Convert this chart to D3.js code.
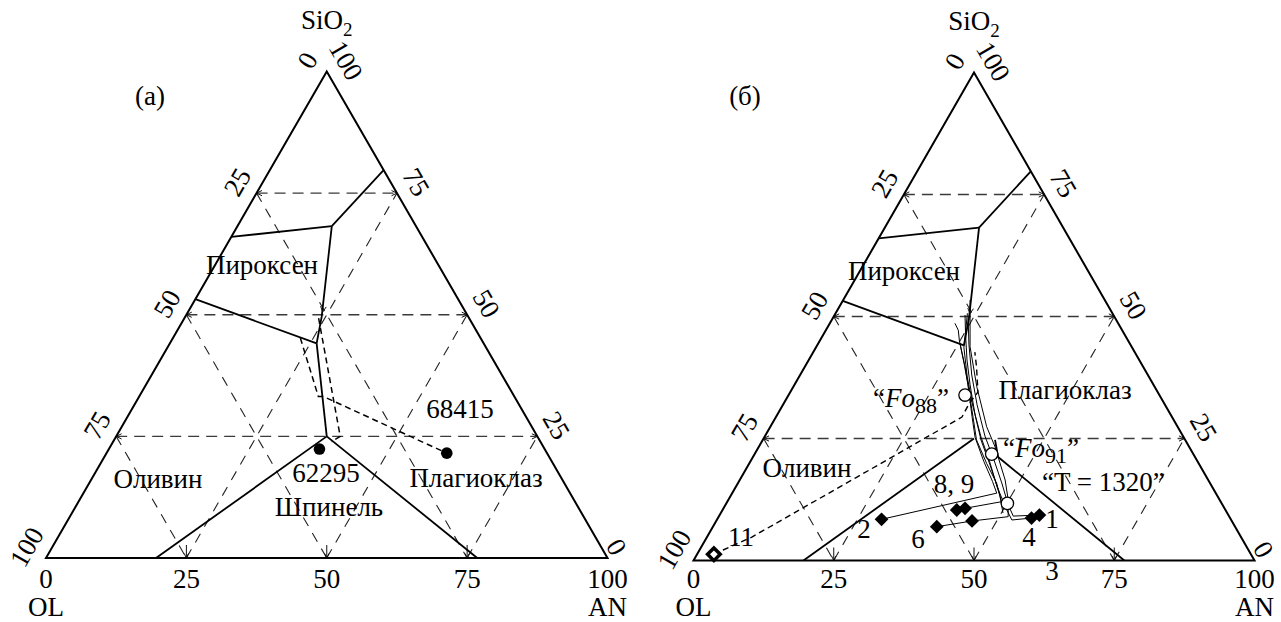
<!DOCTYPE html>
<html><head><meta charset="utf-8">
<script src="https://cdn.jsdelivr.net/npm/d3@7"></script>
<style>
body{margin:0;background:#fff}
svg{display:block}
text{font-family:"Liberation Serif","Times New Roman",serif;fill:#000}
</style>
</head><body><svg id="c" width="1281" height="622"></svg>
<script>
// ================= DATA =================
// ternary coordinates are given as [AN, SiO2] in % (OL = 100 - AN - SiO2)
const tickValues = [0, 25, 50, 75, 100];
const gridValues = [25, 50, 75];
const vertexNames = ["OL", "AN"];

// phase boundaries (common to both panels)
const pyxUpperBoundary   = [[0, 66], [16.8, 68.2]];
const pyxPlagBoundary    = [[16.8, 68.2], [20.25, 79.75]];
const olPyxBoundary      = [[0, 53.2], [26.15, 44.1]];
const cotecticUpper      = [[16.8, 68.2], [24.3, 49.6], [26.15, 44.1]];
const cotecticLower      = [[26.15, 44.1], [37.5, 25]];
const spinelOlBoundary   = [[37.5, 25], [19.6, 0]];
const spinelPlagBoundary = [[37.5, 25], [76.8, 0]];
const spinelPlagBoundaryB = [[41.4, 24.7], [43.7, 21.2], [76.8, 0]];

// panel (а): boundaries for composition 68415 (dashed) and samples
const path68415a = [[22.7, 45.2], [31.9, 33.2], [32.8, 33.2], [60.6, 21.55]];
const path68415b = [[23.9, 49.3], [39.9, 25], [38.9, 23.9]];
const sampleNames = ["62295", "68415"];
const sampleAN = [37.5, 60.6];
const sampleSi = [22.4, 21.55];

// panel (б): experimental compositions (filled diamonds)
const expIds = ["1", "4", "2", "8", "9", "6", ""];
const expAN  = [57.0, 55.9, 29.3, 41.75, 43.05, 39.9, 45.6];
const expSi  = [9.32, 8.7, 8.44, 10.35, 10.7, 6.93, 8.1];
// composition 11 (open diamond)
const comp11 = [3.0, 1.27];
// calculated crystallisation paths
const path2  = [[29.3, 8.44], [47.15, 13.8], [45.2, 16.2], [41.6, 20.3], [37.6, 25.2], [34.9, 29.5], [30.8, 36.2], [28.1, 40.3], [24.9, 45.0], [23.6, 47.2], [22.3, 48.6]];
const path89 = [[43.05, 10.7], [48.9, 12.05], [45.5, 16.5], [43.05, 19.6], [38.9, 24.7], [35.3, 29.8], [31.3, 36.0], [28.2, 41.1], [25.4, 46.2], [23.25, 50.3]];
const path6  = [[39.9, 6.93], [45.6, 8.1], [51.6, 8.98], [49.9, 12.4], [47.3, 16.5], [42.1, 23.3], [38.56, 27.4], [32.7, 35.6], [27.4, 43.8], [22.6, 53.4]];
const path1  = [[57.0, 9.32], [52.45, 9.1], [50.4, 11.4], [47.0, 15.9], [43.26, 20.6], [39.2, 25.5], [34.6, 31.9], [30.6, 38.0], [27.0, 44.2], [24.1, 49.7]];
const path4  = [[55.9, 8.7], [52.6, 8.3], [50.3, 10.76], [46.5, 15.2], [42.7, 20.2], [38.6, 25.3], [34.0, 31.6], [30.0, 37.6], [26.4, 43.6], [23.5, 50.65]];
const bundleL = [[25.25, 44.5], [28.55, 39.7], [31.2, 35.6], [35.5, 28.8], [38.1, 24.7], [42.3, 19.9], [46.15, 15.8], [47.9, 13.4], [50.3, 9.73]];
const path11 = [[3.0, 1.27], [4.2, 2.15], [8.0, 4.8], [20.6, 17.1], [33.15, 29.4], [33.06, 32.2], [33.45, 34.5], [30.6, 39.7], [28.8, 42.7]];
// model points (open circles)
const modelNames = ["Fo88", "Fo91", "T = 1320"];
const modelAN = [31.45, 42.25, 50.1];
const modelSi = [33.9, 21.8, 11.7];

// ================= DRAWING =================
const svg = d3.select("#c");
const FS = 27;

function makePanel(p) {
  const xs = d3.scaleLinear().domain([0, 100]).range([p.x0, p.x0 + p.w]);
  const ys = d3.scaleLinear().domain([0, 100]).range([p.y0, p.y0 - p.h]);
  const proj = ([an, si]) => [xs(an + si / 2), ys(si)];
  const g = svg.append("g");
  const line = d3.line().x(d => proj(d)[0]).y(d => proj(d)[1]);
  return {xs, ys, proj, g, line, p};
}

function arrowHead(g, tip, ang, len = 6, spread = 0.45) {
  const a1 = ang + Math.PI - spread, a2 = ang + Math.PI + spread;
  g.append("path")
    .attr("d", `M${tip[0] + len * Math.cos(a1)},${tip[1] + len * Math.sin(a1)}L${tip[0]},${tip[1]}L${tip[0] + len * Math.cos(a2)},${tip[1] + len * Math.sin(a2)}`)
    .attr("fill", "none").attr("stroke", "#111").attr("stroke-width", 1);
}

function drawFrame(P, apexLabelY) {
  const {g, proj, line} = P;
  gridValues.forEach(v => {
    g.append("path").attr("d", line([[0, v], [100 - v, v]]))
      .attr("fill", "none").attr("stroke", "#3a3a3a").attr("stroke-width", 1.4).attr("stroke-dasharray", "11,7");
    arrowHead(g, proj([0, v]), Math.PI);
    arrowHead(g, proj([100 - v, v]), 0);
    g.append("path").attr("d", line([[0, v], [v, 0]]))
      .attr("fill", "none").attr("stroke", "#222").attr("stroke-width", 1.1).attr("stroke-dasharray", "10,8");
    g.append("path").attr("d", line([[v, 0], [v, 100 - v]]))
      .attr("fill", "none").attr("stroke", "#222").attr("stroke-width", 1.1).attr("stroke-dasharray", "10,8");
    const b = proj([v, 0]);
    g.append("line").attr("x1", b[0]).attr("x2", b[0]).attr("y1", b[1] - 13).attr("y2", b[1])
      .attr("stroke", "#111").attr("stroke-width", 1);
    arrowHead(g, b, Math.PI / 2, 5);
  });
  g.append("path").attr("d", line([[0, 0], [100, 0], [0, 100]]) + "Z")
    .attr("fill", "none").attr("stroke", "#000").attr("stroke-width", 2);

  // bottom ticks (AN)
  tickValues.forEach(v => {
    const b = proj([v, 0]);
    g.append("text").attr("x", b[0]).attr("y", 588).attr("text-anchor", "middle")
      .attr("font-size", FS).text(v);
  });
  // left side (OL)
  tickValues.forEach(v => {
    const e = proj([0, v]);
    const c = [e[0] - 0.866 * 22, e[1] - 0.5 * 22];
    g.append("text").attr("transform", `translate(${c[0]},${c[1]}) rotate(-60)`)
      .attr("text-anchor", "middle").attr("dominant-baseline", "central")
      .attr("font-size", FS).text(100 - v);
  });
  // right side (SiO2)
  tickValues.forEach(v => {
    const e = proj([100 - v, v]);
    const c = v === 0 ? [e[0] + 9, e[1] - 11] : [e[0] + 0.866 * 22, e[1] - 0.5 * 22];
    g.append("text").attr("transform", `translate(${c[0]},${c[1]}) rotate(60)`)
      .attr("text-anchor", "middle").attr("dominant-baseline", "central")
      .attr("font-size", FS).text(v);
  });
  const o = proj([0, 0]), a = proj([100, 0]), t = proj([0, 100]);
  g.append("text").attr("x", o[0]).attr("y", 616).attr("text-anchor", "middle").attr("font-size", FS).text(vertexNames[0]);
  g.append("text").attr("x", a[0]).attr("y", 616).attr("text-anchor", "middle").attr("font-size", FS).text(vertexNames[1]);
  const st = g.append("text").attr("x", t[0]).attr("y", apexLabelY).attr("text-anchor", "middle").attr("font-size", FS);
  st.append("tspan").text("SiO");
  st.append("tspan").attr("font-size", 19).attr("dy", 7).text("2");
}

function solid(P, pts, w = 1.8) {
  P.g.append("path").attr("d", P.line(pts)).attr("fill", "none")
    .attr("stroke", "#000").attr("stroke-width", w).attr("stroke-linejoin", "round");
}
function dashed(P, pts, w = 1.5) {
  P.g.append("path").attr("d", P.line(pts)).attr("fill", "none")
    .attr("stroke", "#000").attr("stroke-width", w).attr("stroke-dasharray", "6,4");
}
function label(P, t, x, y, anchor = "middle") {
  return P.g.append("text").attr("x", x).attr("y", y).attr("text-anchor", anchor).attr("font-size", FS).text(t);
}
function cotecticArrow(P) {
  const p1 = P.proj([24.0, 50.6]), p0 = P.proj(cotecticUpper[0]);
  arrowHead(P.g, p1, Math.atan2(p1[1] - p0[1], p1[0] - p0[0]), 6, 0.5);
}

// ----- panel (а) -----
const A = makePanel({x0: 46, w: 561.5, y0: 558, h: 486.5});
drawFrame(A, 29);
[pyxUpperBoundary, pyxPlagBoundary, olPyxBoundary, cotecticUpper, cotecticLower, spinelOlBoundary, spinelPlagBoundary]
  .forEach(b => solid(A, b));
cotecticArrow(A);
dashed(A, path68415a);
dashed(A, path68415b);
A.g.selectAll("circle.s").data(sampleNames).enter().append("circle")
  .attr("cx", (d, i) => A.proj([sampleAN[i], sampleSi[i]])[0])
  .attr("cy", (d, i) => A.proj([sampleAN[i], sampleSi[i]])[1])
  .attr("r", 5.8).attr("fill", "#000");
label(A, "(а)", 150, 105);
label(A, "Пироксен", 262, 274);
label(A, sampleNames[1], 460, 418);
label(A, sampleNames[0], 326, 482);
label(A, "Оливин", 158, 488);
label(A, "Плагиоклаз", 476, 487);
label(A, "Шпинель", 329, 516);

// ----- panel (б) -----
const B = makePanel({x0: 693.5, w: 561, y0: 560.5, h: 488});
drawFrame(B, 30);
[pyxUpperBoundary, pyxPlagBoundary, olPyxBoundary, cotecticUpper, spinelOlBoundary, spinelPlagBoundaryB]
  .forEach(b => solid(B, b));
cotecticArrow(B);
[path2, path89, path6, path1, path4, bundleL].forEach(pth => solid(B, pth, 1.0));
dashed(B, path11, 1.4);
B.g.selectAll("circle.m").data(modelNames).enter().append("circle")
  .attr("cx", (d, i) => B.proj([modelAN[i], modelSi[i]])[0])
  .attr("cy", (d, i) => B.proj([modelAN[i], modelSi[i]])[1])
  .attr("r", 6.2).attr("fill", "#fff").attr("stroke", "#000").attr("stroke-width", 1.3);
const sq = d3.symbol().type(d3.symbolSquare).size(95);
B.g.selectAll("path.d").data(expIds).enter().append("path")
  .attr("d", sq)
  .attr("transform", (d, i) => { const q = B.proj([expAN[i], expSi[i]]); return `translate(${q[0]},${q[1]}) rotate(45)`; })
  .attr("fill", "#000");
{
  const q = B.proj(comp11);
  B.g.append("path").attr("d", d3.symbol().type(d3.symbolSquare).size(80)())
    .attr("transform", `translate(${q[0]},${q[1]}) rotate(45)`)
    .attr("fill", "#fff").attr("stroke", "#000").attr("stroke-width", 3.5);
}
label(B, "(б)", 745, 105);
label(B, "Пироксен", 904, 280);
label(B, "Плагиоклаз", 1065, 399);
label(B, "Оливин", 807, 477);
label(B, "8, 9", 954, 493);
label(B, "2", 864, 538);
label(B, "6", 918, 548);
label(B, "1", 1052, 528);
label(B, "4", 1029, 546);
label(B, "3", 1052, 580);
label(B, "11", 741, 546);
function foLabel(x, y, sub) {
  const t = B.g.append("text").attr("x", x).attr("y", y).attr("font-size", FS);
  t.append("tspan").text("\u201C");
  t.append("tspan").attr("font-style", "italic").text("Fo");
  t.append("tspan").attr("font-size", 22).attr("dy", 6).text(sub);
  t.append("tspan").attr("dy", -6).text("\u201D");
}
foLabel(873, 407, "88");
foLabel(1003, 457, "91");
label(B, "\u201CT = 1320\u201D", 1042, 491, "start");
</script>
</body></html>
